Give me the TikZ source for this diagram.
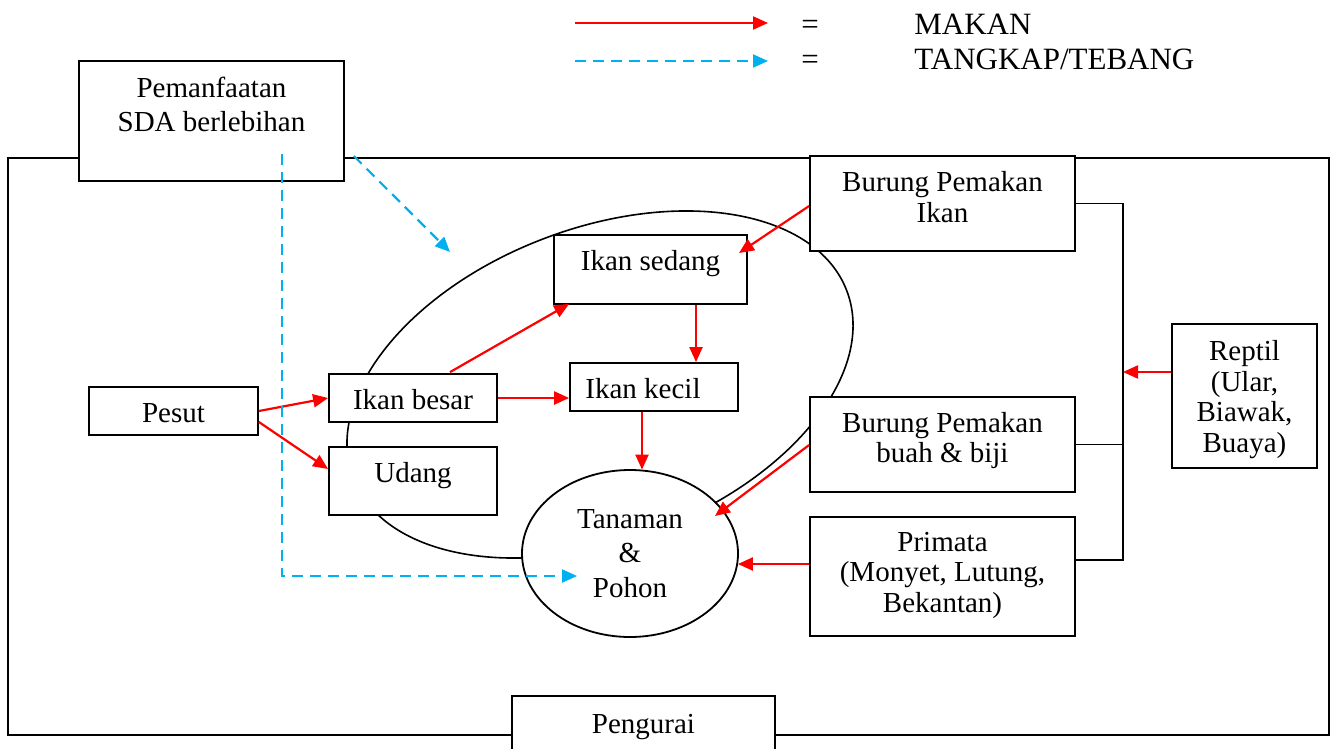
\documentclass[tikz,border=0pt]{standalone}
\usepackage{fontspec}
\setmainfont{Liberation Serif}
\usetikzlibrary{shapes.geometric,arrows.meta,calc}
\definecolor{skyb}{RGB}{0,176,240}
\newcommand{\fsbox}{\fontsize{14.5}{15.25}\selectfont}
\newcommand{\fswide}{\fontsize{14.5}{17.25}\selectfont}
\newcommand{\fsleg}{\fontsize{15.5}{18}\selectfont}
\tikzset{
  box/.style={draw, fill=white, line width=0.9pt, inner sep=0pt, align=center, font=\fsbox},
  mk/.style={draw=red, line width=1.1pt, -{Triangle[length=7.5pt,width=6.5pt]}},
  tb/.style={draw=skyb, line width=1.1pt, dash pattern=on 5.5pt off 3.5pt, -{Triangle[length=7.5pt,width=6.5pt]}},
  frame/.style={draw, line width=0.9pt},
  legtext/.style={inner sep=0pt, font=\fsleg}
}
\begin{document}
\begin{tikzpicture}[x=0.5pt,y=-0.5pt]
\useasboundingbox (0,0) rectangle (1333,749);
\clip (0,0) rectangle (1333,749);
% legend
\coordinate (lg1a) at (575,23);
\coordinate (lg1b) at (768,23);
\coordinate (lg2a) at (575,61);
\coordinate (lg2b) at (768,61);
\draw[mk] (lg1a) -- (lg1b);
\draw[tb] (lg2a) -- (lg2b);
\node[legtext, anchor=base] (eq1) at (810,35) {=};
\node[legtext, anchor=base] (eq2) at (810,70) {=};
\node[legtext, anchor=base west] (lmakan) at (914,35) {MAKAN};
\node[legtext, anchor=base west] (ltangkap) at (914,70) {TANGKAP/TEBANG};
% outer frame
\draw[frame] (8,158) rectangle (1329,735);
% ecosystem ellipse
\node[draw, ellipse, line width=0.8pt, minimum width=264pt, minimum height=156.3pt, rotate=20.75] (eco) at (600,384.5) {};
% boxes
\node[box, minimum width=132.5pt, minimum height=60pt, text height=11pt, text depth=0pt, font=\fswide] (pem) at (211.5,121) {Pemanfaatan\\SDA berlebihan};
\node[box, minimum width=132.5pt, minimum height=47.5pt, text height=18.5pt, text depth=0pt] (bpi) at (942.5,203.5) {Burung Pemakan\\Ikan};
\node[box, minimum width=132.5pt, minimum height=47.5pt, text height=18pt, text depth=0pt] (bpb) at (942.5,444.5) {Burung Pemakan\\buah \& biji};
\node[box, minimum width=132.5pt, minimum height=59.5pt, text height=35.5pt, text depth=0pt] (prim) at (942.5,576.5) {Primata\\(Monyet, Lutung,\\Bekantan)};
\node[box, minimum width=72.5pt, minimum height=72pt, text height=56pt, text depth=0pt] (rep) at (1244.5,396) {Reptil\\(Ular,\\Biawak,\\Buaya)};
\node[box, minimum width=96.5pt, minimum height=34.5pt, text height=5pt, text depth=4.5pt] (is) at (650.5,269.5) {Ikan sedang};
\node[box, minimum width=84pt, minimum height=24pt, text height=11pt, text depth=0pt] (ik) at (654,387) {Ikan kecil\hspace*{11pt}};
\node[box, minimum width=84pt, minimum height=24pt, text height=11pt, text depth=0pt] (ib) at (413,398) {Ikan besar};
\node[box, minimum width=84pt, minimum height=34pt, text height=5pt, text depth=4pt] (udang) at (413,481) {Udang};
\node[box, minimum width=84.5pt, minimum height=24pt, text height=11pt, text depth=0pt] (pesut) at (173.5,411) {Pesut};
\node[box, minimum width=131.5pt, minimum height=37pt, text height=5pt, text depth=5pt] (peng) at (643.5,733) {Pengurai};
\node[draw, ellipse, fill=white, line width=0.9pt, inner sep=0pt, minimum width=108pt, minimum height=83.5pt, align=center, font=\fswide, text height=43.5pt, text depth=0pt] (tan) at (630,553.5) {Tanaman\\\&\\Pohon};
% bracket on the right
\coordinate (brTop) at (1123,204);
\coordinate (brBot) at (1123,560);
\draw[frame] (bpi.east) -- (bpi.east -| brTop) -- (brBot) -- (brBot -| prim.east);
\draw[frame] (bpb.east) -- (bpb.east -| brTop);
\coordinate (repA) at ($(rep.west)+(0,-24)$);
\draw[mk] (repA) -- (repA -| brTop);
% MAKAN arrows
\draw[mk] ($(bpi.west)+(0,2.5)$) -- ($(is.center)+(88.5,-16.5)$);
\draw[mk] ($(ib.north)+(37,-1)$) -- ($(is.south west)+(16,-1)$);
\draw[mk] ($(is.south)+(45.5,0)$) -- ($(ik.north)+(42,0)$);
\draw[mk] (ib.east) -- (ib.east -| ik.west);
\draw[mk] (pesut.east) -- (ib.west);
\draw[mk] ($(pesut.east)+(0,11)$) -- ($(udang.west)+(0,-12)$);
\draw[mk] ($(ik.south)+(-12,0)$) -- ($(tan.north)+(12,0.5)$);
\draw[mk] ($(bpb.west)+(0,0.5)$) -- ($(tan.center)+(85,-37.5)$);
\draw[mk] ($(prim.west)+(0,-12.5)$) -- ($(tan.east)+(-1,10.5)$);
% TANGKAP/TEBANG arrows
\coordinate (tbA) at (450,252);
\draw[tb] ($(pem.east)+(9,35)$) -- (tbA);
\draw[tb] ($(pem.south)+(70.5,-28)$) |- ($(tan.center)+(-53,22.5)$);
\end{tikzpicture}
\end{document}
